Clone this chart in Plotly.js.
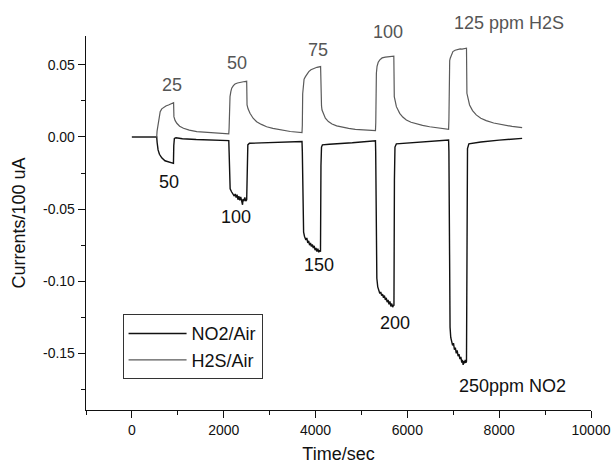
<!DOCTYPE html>
<html>
<head>
<meta charset="utf-8">
<script src="https://cdn.plot.ly/plotly-3.0.1.min.js"></script>
<style>html,body{margin:0;padding:0;background:#fff;}#chart{width:613px;height:467px;}</style>
</head>
<body>
<div id="chart"></div>
<script>
// H2S/Air response (time in s, current /100 uA)
const h2sTime = [0,540,548,565,578,600,616,650,688,740,797,850,891,908,915,940,978,1040,1123,1250,1413,1650,1900,2110,
  2117,2125,2137,2155,2174,2210,2246,2300,2355,2430,2500,2508,2530,2572,2640,2717,2820,2935,3070,3225,3450,3705,
  3712,3720,3730,3750,3780,3815,3853,3900,3962,4030,4110,4120,4130,4141,4175,4214,4280,4359,4460,4576,4720,4866,5080,5305,
  5312,5318,5325,5340,5365,5400,5450,5520,5600,5660,5705,5715,5735,5761,5800,5833,5900,5978,6080,6196,6330,6486,6680,6898,
  6905,6912,6922,6934,6960,6992,7040,7101,7150,7190,7240,7288,7297,7320,7355,7420,7500,7600,7717,7880,8080,8280,8500];
const h2sCurrent = [0,0,0.004,0.008,0.0118,0.015,0.0175,0.0195,0.0206,0.0215,0.0222,0.023,0.0236,0.0238,0.0141,0.0115,0.0095,0.0075,0.006,0.0047,0.0037,0.003,0.0025,0.0021,
  0.006,0.022,0.028,0.0315,0.0338,0.0356,0.0367,0.0374,0.0379,0.0383,0.0386,0.0222,0.0195,0.0164,0.013,0.0106,0.0087,0.0071,0.0059,0.0049,0.0038,0.003,
  0.008,0.03,0.0372,0.04,0.0418,0.0438,0.0453,0.0466,0.0476,0.0483,0.0488,0.0257,0.0215,0.0187,0.0155,0.013,0.0107,0.009,0.0077,0.0067,0.0059,0.0053,0.0048,0.0044,
  0.01,0.035,0.0442,0.049,0.0518,0.0535,0.0548,0.0554,0.0557,0.0555,0.0561,0.028,0.0235,0.021,0.0185,0.0164,0.0138,0.0118,0.0102,0.009,0.008,0.0071,0.0062,0.0053,
  0.012,0.045,0.053,0.0546,0.0575,0.0592,0.0601,0.0608,0.0611,0.0609,0.0614,0.0615,0.0303,0.0265,0.0222,0.0183,0.0153,0.013,0.0113,0.0097,0.0083,0.0073,0.0065];

// NO2/Air response
const no2Time = [0,540,550,570,600,650,720,800,870,905,912,925,960,1100,1400,1800,2110,
  2117,2125,2140,2170,2200,2230,2250,2270,2290,2310,2330,2350,2370,2390,2410,2420,2440,2460,2480,2500,2510,2525,2560,2800,3200,3705,
  3712,3720,3728,3740,3760,3790,3810,3830,3850,3870,3890,3910,3930,3950,3970,3990,4010,4030,4050,4070,4090,4108,4118,4130,4150,4300,4800,5305,
  5310,5318,5325,5335,5355,5375,5400,5420,5440,5460,5480,5500,5520,5540,5560,5580,5600,5620,5640,5660,5680,5700,5708,5718,5730,5760,6000,6500,6898,
  6905,6912,6920,6930,6945,6965,6985,7005,7025,7045,7065,7085,7105,7125,7145,7165,7185,7200,7215,7230,7245,7260,7275,7288,7298,7310,7340,7600,8000,8500];
const no2Current = [0,0,-0.004,-0.009,-0.012,-0.0145,-0.0165,-0.0175,-0.018,-0.0183,-0.006,-0.001,-0.0006,-0.0012,-0.0018,-0.0022,-0.0025,
  -0.01,-0.03,-0.036,-0.038,-0.0395,-0.041,-0.0395,-0.042,-0.04,-0.0435,-0.041,-0.044,-0.0415,-0.0455,-0.047,-0.043,-0.0445,-0.042,-0.0445,-0.0435,-0.015,-0.0055,-0.0044,-0.0042,-0.0038,-0.0032,
  -0.01,-0.04,-0.06,-0.066,-0.069,-0.0715,-0.07,-0.0735,-0.072,-0.075,-0.0735,-0.076,-0.0745,-0.077,-0.0755,-0.0785,-0.077,-0.0795,-0.0775,-0.08,-0.0785,-0.0795,-0.02,-0.007,-0.0055,-0.005,-0.004,-0.0026,
  -0.01,-0.05,-0.09,-0.098,-0.104,-0.107,-0.1085,-0.1075,-0.11,-0.109,-0.1115,-0.11,-0.113,-0.1115,-0.1145,-0.113,-0.116,-0.114,-0.1175,-0.1155,-0.118,-0.1165,-0.117,-0.03,-0.007,-0.0048,-0.0042,-0.003,-0.0021,
  -0.01,-0.06,-0.11,-0.132,-0.139,-0.142,-0.1445,-0.143,-0.1475,-0.146,-0.15,-0.148,-0.152,-0.1505,-0.154,-0.1525,-0.1565,-0.1545,-0.158,-0.1555,-0.157,-0.1545,-0.1565,-0.1555,-0.03,-0.008,-0.0048,-0.0035,-0.0022,-0.001];

const yTickVals = [-0.15,-0.10,-0.05,0.00,0.05];
const yTickText = ['-0.15','-0.10','-0.05','0.00','0.05'];
const h2sLabels = ['25','50','75','100','125 ppm H2S'];
const no2Labels = ['50','100','150','200','250ppm NO2'];

const FONT = '"Liberation Sans", Arial, Helvetica, sans-serif';

const traces = [
  {x: no2Time, y: no2Current, type: 'scatter', mode: 'lines', name: 'NO2/Air',
   line: {color: '#111111', width: 1.4}},
  {x: h2sTime, y: h2sCurrent, type: 'scatter', mode: 'lines', name: 'H2S/Air',
   line: {color: '#5a5a5a', width: 1.2}}
];

const up = {color: '#555555', size: 18, family: FONT};
const lo = {color: '#111111', size: 18, family: FONT};
function ann(text, x, y, yref, font) {
  return {text: text, x: x, y: y, xref: 'x', yref: yref, showarrow: false, font: font,
          xanchor: 'center', yanchor: 'middle'};
}
const annotations = [
  ann(h2sLabels[0], 870, 0.0361, 'y', up),
  ann(h2sLabels[1], 2283, 0.0515, 'y', up),
  ann(h2sLabels[2], 4057, 0.0603, 'y', up),
  ann(h2sLabels[3], 5578, 1.01, 'paper', up),
  ann(h2sLabels[4], 8224, 1.036, 'paper', up),
  ann(no2Labels[0], 818, -0.031, 'y', lo),
  ann(no2Labels[1], 2267, -0.0552, 'y', lo),
  ann(no2Labels[2], 4078, -0.0888, 'y', lo),
  ann(no2Labels[3], 5724, -0.129, 'y', lo),
  ann(no2Labels[4], 8296, -0.173, 'y', lo)
];

const layout = {
  width: 613, height: 467,
  margin: {l: 86, r: 22, t: 36, b: 57},
  paper_bgcolor: '#ffffff', plot_bgcolor: '#ffffff',
  font: {family: FONT, color: '#111111'},
  showlegend: true,
  legend: {x: 0.0724, y: 0.256, xanchor: 'left', yanchor: 'top',
           bgcolor: '#ffffff', bordercolor: '#333333', borderwidth: 1,
           font: {size: 18, family: FONT, color: '#111111'}, itemwidth: 58,
           tracegroupgap: 0},
  xaxis: {
    range: [-1000, 10000], tickmode: 'linear', tick0: 0, dtick: 2000, tickformat: 'd',
    ticks: 'outside', ticklen: 7, tickwidth: 1, tickcolor: '#111',
    minor: {tickmode: 'linear', tick0: 0, dtick: 1000, ticks: 'outside', ticklen: 4, tickwidth: 1, tickcolor: '#111', showgrid: false},
    showline: true, linecolor: '#111', linewidth: 1.3, mirror: false,
    showgrid: false, zeroline: false,
    tickfont: {size: 14, family: FONT, color: '#111'},
    title: {text: 'Time/sec', font: {size: 18, family: FONT, color: '#111'}, standoff: 10}
  },
  yaxis: {
    range: [-0.1893, 0.070], tickmode: 'array', tickvals: yTickVals, ticktext: yTickText,
    ticks: 'outside', ticklen: 7, tickwidth: 1, tickcolor: '#111',
    minor: {tickmode: 'linear', tick0: 0, dtick: 0.025, ticks: 'outside', ticklen: 4, tickwidth: 1, tickcolor: '#111', showgrid: false},
    showline: true, linecolor: '#111', linewidth: 1.3, mirror: false,
    showgrid: false, zeroline: false,
    tickfont: {size: 14, family: FONT, color: '#111'},
    title: {text: 'Currents/100 uA', font: {size: 18, family: FONT, color: '#111'}, standoff: 12}
  },
  annotations: annotations
};

Plotly.newPlot('chart', traces, layout, {displayModeBar: false, staticPlot: true});
</script>
</body>
</html>
